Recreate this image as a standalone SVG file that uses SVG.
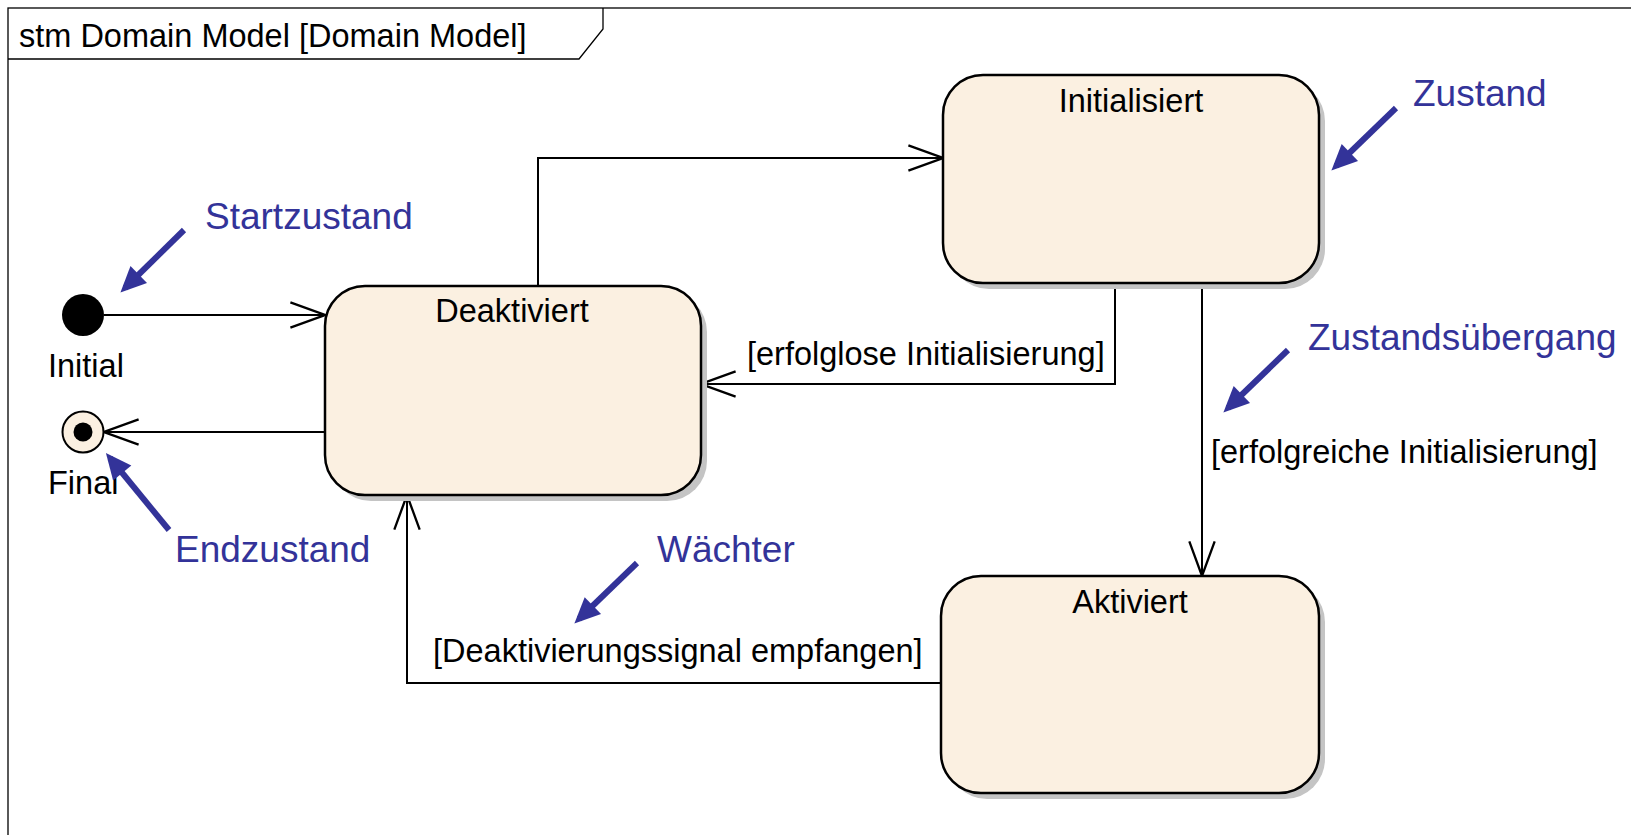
<svg xmlns="http://www.w3.org/2000/svg" width="1631" height="835" viewBox="0 0 1631 835">
  <style>
    .frame { fill: none; stroke: #000; stroke-width: 1.3; }
    .state { fill: #FBF0E1; stroke: #000; stroke-width: 2.5; }
    .shadow { fill: #C4C4C4; }
    .name { font-family: "Liberation Sans", Arial, sans-serif; font-size: 32.5px; fill: #000; text-anchor: middle; }
    .label { font-family: "Liberation Sans", Arial, sans-serif; font-size: 32.5px; fill: #000; }
    .note { font-family: "Liberation Sans", Arial, sans-serif; font-size: 37px; fill: #333399; }
    .edge { fill: none; stroke: #000; stroke-width: 2; marker-end: url(#open); }
    .pointer { fill: none; stroke: #333399; stroke-width: 6; marker-end: url(#solid); }
  </style>
  <defs>
    <marker id="open" markerUnits="userSpaceOnUse" markerWidth="40" markerHeight="30" viewBox="-32 -13 34 26" refX="0" refY="0" orient="auto">
      <path d="M-30,-11 L0,0 L-30,11" fill="none" stroke="#000" stroke-width="2"/>
    </marker>
    <marker id="solid" markerUnits="userSpaceOnUse" markerWidth="30" markerHeight="30" viewBox="-2 -13 28 26" refX="18" refY="0" orient="auto">
      <path d="M0,-11 L24,0 L0,11 Z" fill="#333399"/>
    </marker>
  </defs>

  <rect width="1631" height="835" fill="#fff"/>

  <!-- diagram frame with name tab -->
  <g id="frame">
    <rect class="frame" x="8" y="8" width="1640" height="840"/>
    <path class="frame" d="M8,59 L579,59 L603,29 L603,8"/>
    <text class="label" x="19" y="47">stm Domain Model [Domain Model]</text>
  </g>

  <!-- transitions -->
  <g id="connectors">
    <path class="edge" d="M104,315 H325"/>
    <path class="edge" d="M325,432 H104"/>
    <path class="edge" d="M538,286 V158 H943"/>
    <path class="edge" d="M1115,283 V384 H701"/>
    <path class="edge" d="M1202,283 V576"/>
    <path class="edge" d="M941,683 H407 V495"/>
    <text class="label" x="747" y="365">[erfolglose Initialisierung]</text>
    <text class="label" x="1211" y="463">[erfolgreiche Initialisierung]</text>
    <text class="label" x="433" y="662">[Deaktivierungssignal empfangen]</text>
  </g>

  <g id="initial">
    <circle cx="83" cy="315" r="21" fill="#000"/>
    <text class="label" x="48" y="377">Initial</text>
  </g>

  <g id="final">
    <circle cx="83" cy="432" r="20.5" fill="#FBF0E1" stroke="#000" stroke-width="2"/>
    <circle cx="83" cy="432" r="9.5" fill="#000"/>
    <text class="label" x="48" y="494">Final</text>
  </g>

  <g id="deaktiviert">
    <rect class="shadow" x="331" y="292" width="376" height="209" rx="40"/>
    <rect class="state" x="325" y="286" width="376" height="209" rx="40"/>
    <text class="name" x="512" y="322">Deaktiviert</text>
  </g>

  <g id="initialisiert">
    <rect class="shadow" x="949" y="81" width="376" height="208" rx="40"/>
    <rect class="state" x="943" y="75" width="376" height="208" rx="40"/>
    <text class="name" x="1131" y="112">Initialisiert</text>
  </g>

  <g id="aktiviert">
    <rect class="shadow" x="947" y="582" width="378" height="217" rx="40"/>
    <rect class="state" x="941" y="576" width="378" height="217" rx="40"/>
    <text class="name" x="1130" y="613">Aktiviert</text>
  </g>

  <!-- explanatory notes -->
  <g id="note-start">
    <path class="pointer" d="M184,230 L125,288"/>
    <text class="note" x="205" y="229">Startzustand</text>
  </g>
  <g id="note-end">
    <path class="pointer" d="M169,530 L110,458"/>
    <text class="note" x="175" y="562">Endzustand</text>
  </g>
  <g id="note-guard">
    <path class="pointer" d="M637,563 L579,619"/>
    <text class="note" x="657" y="562">Wächter</text>
  </g>
  <g id="note-transition">
    <path class="pointer" d="M1288,350 L1228,408"/>
    <text class="note" x="1308" y="350">Zustandsübergang</text>
  </g>
  <g id="note-state">
    <path class="pointer" d="M1396,108 L1336,166"/>
    <text class="note" x="1413" y="106">Zustand</text>
  </g>
</svg>
